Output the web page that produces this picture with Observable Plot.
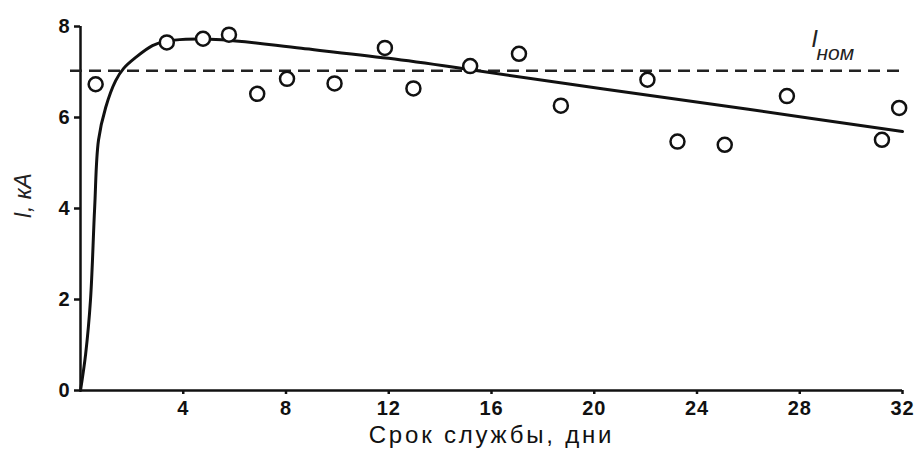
<!DOCTYPE html>
<html>
<head>
<meta charset="utf-8">
<script src="https://cdn.jsdelivr.net/npm/d3@7"></script>
<script src="https://cdn.jsdelivr.net/npm/@observablehq/plot@0.6"></script>
<style>
  body { margin: 0; background: #fff; }
  #chart svg [aria-label="x-axis label"] text { font-weight: normal; font-size: 24px; letter-spacing: 2.8px; }
  #chart svg [aria-label="x-axis tick label"] text, #chart svg [aria-label="y-axis tick label"] text { letter-spacing: 1px; }
</style>
</head>
<body>
<div id="chart"></div>
<script>
// Measured points (days, kA)
const pointDays = [0.59, 3.36, 4.77, 5.78, 6.88, 8.04, 9.89, 11.85, 12.96, 15.17, 17.07, 18.7, 22.07, 23.24, 25.08, 27.5, 31.2, 31.87];
const pointAmps = [6.73, 7.65, 7.73, 7.82, 6.52, 6.85, 6.75, 7.53, 6.64, 7.13, 7.40, 6.26, 6.83, 5.47, 5.40, 6.47, 5.51, 6.21];

// Fitted curve
const curveDays = [0, 0.2, 0.39, 0.55, 0.7, 0.98, 1.37, 1.68, 2.15, 2.8, 3.3, 4.1, 5.5, 8.6, 12, 15.2, 20.3, 26, 32];
const curveAmps = [0, 0.8, 2.0, 4.0, 5.5, 6.22, 6.81, 7.08, 7.32, 7.58, 7.67, 7.72, 7.71, 7.52, 7.3, 7.05, 6.63, 6.18, 5.69];

const nominal = [7.03];
const xTicks = [4, 8, 12, 16, 20, 24, 28, 32];
const yTicks = [0, 2, 4, 6, 8];
const xLabel = "Срок службы, дни";
const yLabel = ["I, кА"];
const nomMain = ["I"];
const nomSub = ["ном"];
const nomPos = {x: 28.45, y: 7.72, xs: 28.65, ys: 7.42};

const points = pointDays.map((d, i) => ({x: d, y: pointAmps[i]}));
const curve = curveDays.map((d, i) => ({x: d, y: curveAmps[i]}));

const chart = Plot.plot({
  width: 922,
  height: 457,
  marginLeft: 80,
  marginRight: 20,
  marginTop: 26,
  marginBottom: 67,
  style: {fontFamily: "'Liberation Sans', Arial, sans-serif", fontSize: "20px", color: "#111", background: "#fff"},
  x: {domain: [0, 32]},
  y: {domain: [0, 8]},
  marks: [
    Plot.axisY({ticks: yTicks, tickSize: 6, tickPadding: 4, fontWeight: "bold", label: null, strokeWidth: 2.5}),
    Plot.axisX({ticks: xTicks, tickSize: 4, tickPadding: 6, fontWeight: "bold", label: xLabel, labelAnchor: "center", labelArrow: "none", labelOffset: 52, strokeWidth: 2.5}),
    Plot.text(yLabel, {frameAnchor: "left", rotate: -90, dx: -57, dy: 10, text: d => d, fontSize: 23, fontStyle: "italic", letterSpacing: "2px", fill: "#222"}),
    Plot.ruleX([0], {stroke: "#111", strokeWidth: 2.5}),
    Plot.ruleY([0], {stroke: "#111", strokeWidth: 2.5}),
    Plot.ruleY(nominal, {stroke: "#222", strokeWidth: 2.5, strokeDasharray: "12,7", insetLeft: -10}),
    Plot.line(curve, {x: "x", y: "y", curve: "catmull-rom", stroke: "#111", strokeWidth: 3}),
    Plot.dot(points, {x: "x", y: "y", r: 7, stroke: "#111", strokeWidth: 2.5, fill: "#fff"}),
    Plot.text(nomMain, {x: () => nomPos.x, y: () => nomPos.y, text: d => d, fontSize: 24, fontStyle: "italic", textAnchor: "start", fill: "#222"}),
    Plot.text(nomSub, {x: () => nomPos.xs, y: () => nomPos.ys, text: d => d, fontSize: 21, fontStyle: "italic", textAnchor: "start", fill: "#222"})
  ]
});
document.getElementById("chart").appendChild(chart);
</script>
</body>
</html>
